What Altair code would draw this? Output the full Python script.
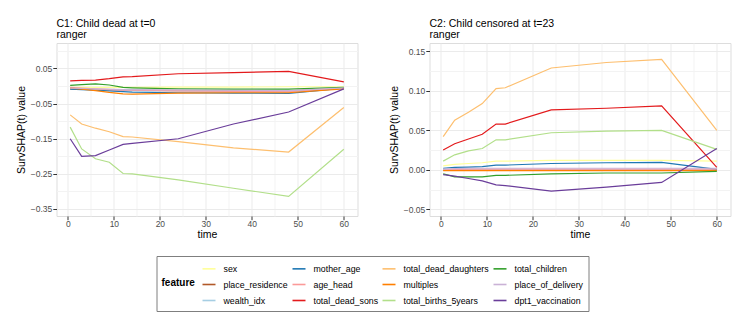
import altair as alt
import pandas as pd

times = [0.5, 3, 6, 9, 12, 14, 24, 36, 48, 60]

features = ["sex", "place_residence", "wealth_idx", "mother_age", "age_head",
            "total_dead_sons", "total_dead_daughters", "multiples",
            "total_births_5years", "total_children", "place_of_delivery",
            "dpt1_vaccination"]
colors = ["#ffff99", "#b15928", "#a6cee3", "#1f78b4", "#fb9a99", "#e31a1c",
          "#fdbf6f", "#ff7f00", "#b2df8a", "#33a02c", "#cab2d6", "#6a3d9a"]

# C1: Child dead at t=0
c1_sex = [-0.004, -0.004, -0.004, -0.004, -0.004, -0.004, -0.003, -0.003, -0.002, -0.002]
c1_place_residence = [-0.008, -0.009, -0.010, -0.011, -0.012, -0.012, -0.013, -0.013, -0.014, -0.006]
c1_wealth_idx = [-0.007, -0.008, -0.010, -0.011, -0.012, -0.013, -0.014, -0.014, -0.015, -0.006]
c1_mother_age = [-0.009, -0.010, -0.012, -0.014, -0.016, -0.017, -0.019, -0.020, -0.021, -0.006]
c1_age_head = [-0.004, -0.006, -0.008, -0.010, -0.012, -0.012, -0.014, -0.015, -0.016, -0.006]
c1_total_dead_sons = [0.015, 0.016, 0.017, 0.021, 0.026, 0.027, 0.035, 0.038, 0.042, 0.012]
c1_total_dead_daughters = [-0.082, -0.108, -0.120, -0.130, -0.144, -0.145, -0.158, -0.176, -0.188, -0.061]
c1_multiples = [-0.006, -0.009, -0.013, -0.018, -0.022, -0.023, -0.020, -0.019, -0.019, -0.008]
c1_total_births_5years = [-0.117, -0.179, -0.207, -0.217, -0.249, -0.250, -0.267, -0.291, -0.314, -0.180]
c1_total_children = [0.002, 0.004, 0.006, 0.003, -0.004, -0.005, -0.008, -0.009, -0.009, -0.004]
c1_place_of_delivery = [-0.006, -0.007, -0.008, -0.009, -0.010, -0.010, -0.011, -0.012, -0.013, -0.005]
c1_dpt1_vaccination = [-0.150, -0.200, -0.198, -0.182, -0.166, -0.163, -0.150, -0.108, -0.074, -0.008]

# C2: Child censored at t=23
c2_sex = [0.005, 0.007, 0.008, 0.009, 0.011, 0.011, 0.012, 0.012, 0.012, 0.011]
c2_place_residence = [-0.0005, -0.0005, -0.0005, -0.0005, -0.0005, -0.0005, -0.0005, -0.0005, -0.0005, -0.0005]
c2_wealth_idx = [0.000, 0.000, 0.000, 0.000, 0.000, 0.000, 0.000, 0.000, 0.000, 0.000]
c2_mother_age = [0.002, 0.003, 0.0035, 0.004, 0.006, 0.006, 0.008, 0.009, 0.0095, 0.0005]
c2_age_head = [0.000, 0.0005, 0.001, 0.001, 0.001, 0.001, 0.001, 0.001, 0.001, 0.001]
c2_total_dead_sons = [0.025, 0.033, 0.039, 0.045, 0.058, 0.058, 0.076, 0.078, 0.081, 0.003]
c2_total_dead_daughters = [0.042, 0.063, 0.073, 0.084, 0.103, 0.104, 0.129, 0.136, 0.140, 0.050]
c2_multiples = [-0.001, -0.001, -0.001, -0.001, -0.001, -0.001, -0.001, -0.001, -0.001, -0.001]
c2_total_births_5years = [0.011, 0.019, 0.024, 0.027, 0.038, 0.038, 0.047, 0.049, 0.050, 0.026]
c2_total_children = [-0.005, -0.009, -0.009, -0.009, -0.007, -0.007, -0.005, -0.004, -0.004, -0.002]
c2_place_of_delivery = [0.001, 0.0015, 0.002, 0.002, 0.002, 0.002, 0.002, 0.002, 0.002, 0.002]
c2_dpt1_vaccination = [-0.006, -0.008, -0.011, -0.014, -0.019, -0.020, -0.027, -0.022, -0.016, 0.027]

c1 = [c1_sex, c1_place_residence, c1_wealth_idx, c1_mother_age, c1_age_head,
      c1_total_dead_sons, c1_total_dead_daughters, c1_multiples,
      c1_total_births_5years, c1_total_children, c1_place_of_delivery,
      c1_dpt1_vaccination]
c2 = [c2_sex, c2_place_residence, c2_wealth_idx, c2_mother_age, c2_age_head,
      c2_total_dead_sons, c2_total_dead_daughters, c2_multiples,
      c2_total_births_5years, c2_total_children, c2_place_of_delivery,
      c2_dpt1_vaccination]


def frame(series):
    rows = []
    for k, (f, vals) in enumerate(zip(features, series)):
        for t, v in zip(times, vals):
            rows.append({"feature": f, "time": t, "value": v, "ord": k})
    return pd.DataFrame(rows)


FONT = "Liberation Sans"
GRID_MAJOR = "#ebebeb"
GRID_MINOR = "#f3f3f3"


def arr(vals):
    return "[" + ",".join(repr(v) for v in vals) + "]"


def panel(df, title, ydomain, yvals, ymajor, show_legend):
    ytest = f"indexof({arr(ymajor)}, datum.value) >= 0"
    xtest = "datum.value % 10 == 0"
    xaxis = alt.Axis(
        values=list(range(0, 65, 5)), title="time",
        labelExpr=f"{xtest} ? datum.label : ''",
        tickOpacity={"condition": {"test": xtest, "value": 1}, "value": 0},
        gridColor={"condition": {"test": xtest, "value": GRID_MAJOR}, "value": GRID_MINOR},
        domain=False, tickColor="#333333", tickSize=3.7, labelPadding=0,
        labelColor="#4d4d4d", labelFontSize=8.5, titleFontSize=10.5,
        titleFontWeight="normal", titleColor="#000000", titlePadding=1,
        labelFont=FONT, titleFont=FONT)
    yaxis = alt.Axis(
        values=yvals, title="SurvSHAP(t) value", format=".2f",
        labelExpr=f"{ytest} ? datum.label : ''",
        tickOpacity={"condition": {"test": ytest, "value": 1}, "value": 0},
        gridColor={"condition": {"test": ytest, "value": GRID_MAJOR}, "value": GRID_MINOR},
        domain=False, tickColor="#333333", tickSize=3.7, labelPadding=1,
        labelColor="#4d4d4d", labelFontSize=8.5, titleFontSize=10.5,
        titleFontWeight="normal", titleColor="#000000", titlePadding=4,
        labelFont=FONT, titleFont=FONT)
    legend = alt.Legend(
        title="feature", orient="none", legendX=100, legendY=213,
        columns=4, titleOrient="left", titleAnchor="middle", titleBaseline="middle",
        titleFontWeight="bold", titleFontSize=10, titleColor="#000000",
        titlePadding=6, labelFontSize=8.8, labelColor="#000000",
        symbolType="stroke", symbolSize=169, symbolStrokeWidth=1.6,
        columnPadding=0, rowPadding=3, labelOffset=7, padding=5,
        strokeColor="#7f7f7f", fillColor="#ffffff", labelFont=FONT, titleFont=FONT)
    return alt.Chart(df).mark_line(strokeWidth=1.2).encode(
        x=alt.X("time:Q", scale=alt.Scale(domain=[-2.475, 62.975], nice=False, zero=False), axis=xaxis),
        y=alt.Y("value:Q", scale=alt.Scale(domain=ydomain, nice=False, zero=False), axis=yaxis),
        color=alt.Color("feature:N", scale=alt.Scale(domain=features, range=colors),
                        legend=legend if show_legend else None),
        detail="ord:O",
    ).properties(
        width=301, height=173,
        title=alt.TitleParams(text=title, subtitle="ranger", anchor="start", frame="group",
                              fontSize=10.5, subtitleFontSize=10.5, fontWeight="normal",
                              color="#000000", subtitleColor="#000000", font=FONT,
                              subtitleFont=FONT, offset=3, subtitlePadding=0),
    )


p1 = panel(frame(c1), "C1: Child dead at t=0", [-0.37, 0.1226],
           [0.1, 0.05, 0.0, -0.05, -0.1, -0.15, -0.2, -0.25, -0.3, -0.35],
           [0.05, -0.05, -0.15, -0.25, -0.35], True)
p2 = panel(frame(c2), "C2: Child censored at t=23", [-0.0585, 0.1607],
           [0.15, 0.125, 0.1, 0.075, 0.05, 0.025, 0.0, -0.025, -0.05],
           [0.15, 0.1, 0.05, 0.0, -0.05], True)

chart = alt.hconcat(p1, p2, spacing=30).properties(
    padding={"left": 7.5, "top": 10, "right": 5, "bottom": 5}
).configure_view(stroke="#333333", strokeWidth=1).configure(font=FONT).configure_axis(
    gridWidth=1
)

chart.save("out.html", embed_options={"renderer": "svg", "actions": False})
